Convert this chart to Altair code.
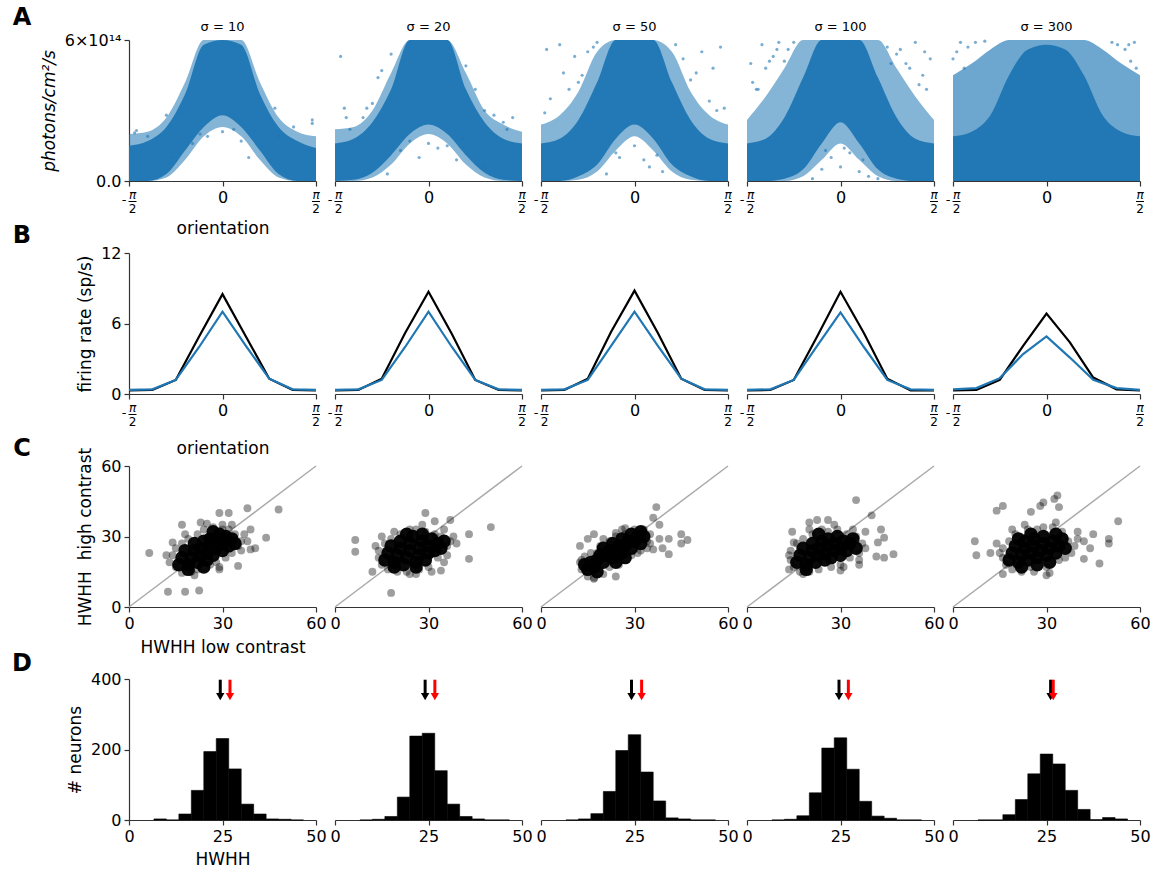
import altair as alt
import pandas as pd

FONT = "DejaVu Sans"
W, H = 187, 141
BLUE = "#1f77b4"
SIGMAS = ["σ = 10", "σ = 20", "σ = 50", "σ = 100", "σ = 300"]

# ---------------- Row A: photon flux clouds (orientation in units of pi, flux in 1e14) ----------
A_GRID = [-0.5, -0.4, -0.3, -0.2, -0.1, 0.0, 0.1, 0.2, 0.3, 0.4, 0.5]
A_CORE_LO = [
    [0, 0, 0.3, 1.3, 2.3, 2.8, 2.3, 1.3, 0.3, 0, 0],
    [0, 0.05, 0.35, 1.1, 2.0, 2.4, 2.0, 1.1, 0.35, 0.05, 0],
    [0, 0, 0.2, 0.7, 1.8, 2.4, 1.8, 0.7, 0.2, 0, 0],
    [0, 0, 0.1, 0.5, 1.6, 2.5, 1.6, 0.5, 0.1, 0, 0],
    [0, 0, 0, 0, 0, 0, 0, 0, 0, 0, 0],
]
A_CORE_HI = [
    [1.5, 1.7, 2.3, 3.7, 5.8, 6, 5.8, 3.7, 2.3, 1.7, 1.4],
    [1.6, 1.8, 2.5, 3.9, 6, 6, 6, 3.9, 2.5, 1.8, 1.6],
    [1.6, 1.8, 2.6, 4.2, 6, 6, 6, 4.2, 2.6, 1.8, 1.6],
    [1.6, 1.8, 2.7, 4.4, 6, 6, 6, 4.4, 2.7, 1.8, 1.6],
    [1.9, 2.1, 2.8, 4.5, 5.6, 5.8, 5.6, 4.5, 2.8, 2.1, 1.9],
]
A_HALO_LO = [
    [0, 0, 0.15, 0.9, 1.9, 2.3, 1.9, 0.9, 0.15, 0, 0],
    [0, 0, 0.15, 0.7, 1.6, 2.0, 1.6, 0.7, 0.15, 0, 0],
    [0, 0, 0.05, 0.4, 1.3, 1.9, 1.3, 0.4, 0.05, 0, 0],
    [0, 0, 0, 0.2, 0.9, 1.6, 0.9, 0.2, 0, 0, 0],
    [0, 0, 0, 0, 0, 0, 0, 0, 0, 0, 0],
]
A_HALO_HI = [
    [2.0, 2.1, 2.7, 4.2, 6, 6, 6, 4.2, 2.7, 2.1, 1.9],
    [2.2, 2.3, 3.0, 4.6, 6, 6, 6, 4.6, 3.0, 2.4, 2.1],
    [2.4, 2.8, 3.8, 5.5, 6, 6, 6, 5.5, 3.8, 2.8, 2.4],
    [2.6, 3.6, 4.8, 6, 6, 6, 6, 6, 4.8, 3.6, 2.6],
    [4.5, 5.0, 5.6, 6, 6, 6, 6, 6, 5.6, 5.0, 4.5],
]
A_PTS = [
    [(-0.47, 2.05), (-0.46, 2.15), (-0.4, 1.9), (-0.3, 2.8), (-0.22, 2.9), (-0.27, 1.0),
     (-0.16, 1.6), (-0.08, 1.9), (0.0, 2.1), (0.06, 2.2), (0.1, 1.7), (0.14, 1.0),
     (0.28, 3.1), (0.3, 1.9), (0.48, 2.6), (0.48, 2.45), (0.38, 2.3), (-0.12, 2.0)],
    [(-0.47, 5.3), (-0.45, 3.1), (-0.44, 2.7), (-0.42, 2.2), (-0.35, 2.7), (-0.3, 3.3),
     (-0.33, 3.1), (-0.25, 4.7), (-0.27, 4.4), (-0.2, 5.4), (0.2, 4.9), (0.25, 3.9),
     (0.3, 3.0), (0.35, 2.8), (0.4, 2.5), (0.45, 2.7), (0.42, 2.2), (0.0, 1.6),
     (-0.05, 1.0), (0.05, 1.4), (0.15, 0.9), (-0.15, 1.3), (0.3, 0.6), (-0.1, 1.7),
     (0.1, 1.5), (0.18, 1.8), (-0.22, 0.3)],
    [(-0.47, 5.6), (-0.45, 3.5), (-0.4, 5.8), (-0.38, 4.6), (-0.35, 3.9), (-0.32, 5.3),
     (-0.3, 4.2), (-0.28, 4.5), (-0.25, 5.5), (-0.22, 5.7), (-0.2, 5.9), (0.22, 5.8),
     (0.26, 5.2), (0.3, 4.3), (0.33, 4.6), (0.36, 5.5), (0.4, 3.4), (0.42, 4.8),
     (0.46, 5.7), (0.48, 3.1), (0.44, 3.0), (-0.08, 1.0), (0.05, 0.9), (0.12, 1.1),
     (-0.15, 0.3), (0.0, 1.5), (0.15, 0.4), (-0.1, 1.2), (0.08, 0.6), (-0.48, 2.9)],
    [(-0.48, 5.0), (-0.47, 4.2), (-0.45, 3.9), (-0.42, 5.8), (-0.4, 4.8), (-0.38, 5.1),
     (-0.36, 5.3), (-0.34, 5.6), (-0.33, 5.9), (-0.3, 5.1), (-0.28, 5.6), (-0.25, 5.9),
     (0.25, 5.7), (0.27, 5.0), (0.3, 5.4), (0.32, 5.6), (0.35, 5.0), (0.37, 4.8),
     (0.4, 5.9), (0.42, 4.1), (0.44, 4.5), (0.46, 3.9), (0.48, 5.2), (-0.44, 3.9),
     (0.45, 5.5), (-0.1, 0.5), (-0.05, 1.0), (0.0, 0.6), (0.05, 1.2), (0.1, 0.4),
     (-0.15, 0.1), (0.15, 0.2), (0.02, 1.4), (-0.08, 1.3), (0.12, 0.9), (0.2, 0.1)],
    [(-0.48, 5.5), (-0.46, 5.9), (-0.44, 4.8), (-0.42, 5.7), (0.42, 5.6), (0.45, 5.1),
     (0.47, 5.9), (0.48, 4.8), (-0.5, 5.2), (0.44, 5.8), (-0.38, 5.9), (0.38, 5.8),
     (-0.33, 5.95), (0.35, 5.9)],
]

# ---------------- Row B: tuning curves ----------
B_ORI = [-0.5, -0.375, -0.25, -0.125, 0.0, 0.125, 0.25, 0.375, 0.5]
B_HIGH = [
    [0.3, 0.35, 1.2, 4.9, 8.5, 4.9, 1.3, 0.35, 0.3],
    [0.3, 0.35, 1.3, 5.2, 8.7, 5.1, 1.2, 0.35, 0.3],
    [0.3, 0.35, 1.3, 5.3, 8.8, 5.2, 1.3, 0.35, 0.3],
    [0.3, 0.35, 1.2, 4.9, 8.7, 5.2, 1.3, 0.3, 0.3],
    [0.3, 0.35, 1.2, 4.1, 6.85, 4.4, 1.4, 0.4, 0.3],
]
B_LOW = [
    [0.35, 0.4, 1.2, 4.0, 7.0, 4.1, 1.3, 0.4, 0.35],
    [0.35, 0.4, 1.2, 4.0, 7.0, 4.0, 1.2, 0.4, 0.35],
    [0.35, 0.4, 1.2, 4.1, 7.0, 4.1, 1.3, 0.4, 0.35],
    [0.35, 0.4, 1.2, 4.1, 6.95, 4.0, 1.2, 0.4, 0.35],
    [0.4, 0.5, 1.35, 3.4, 4.9, 3.1, 1.2, 0.5, 0.35],
]

# ---------------- Row C: HWHH low vs high contrast ----------
C_CORE = [
    [(16, 18), (17, 21), (18, 24), (19, 18), (20, 21), (21, 24), (21, 27), (22, 19), (23, 22),
     (23, 25), (24, 28), (25, 20), (25, 23), (26, 26), (26, 29), (27, 22), (28, 25), (28, 28),
     (29, 31), (30, 24), (30, 27), (31, 30), (32, 26), (33, 29), (19, 16), (24, 17), (27, 32), (34, 27)],
    [(16, 20), (17, 23), (18, 26), (19, 19), (20, 22), (21, 25), (21, 28), (22, 18), (23, 21),
     (24, 24), (24, 27), (25, 30), (26, 19), (27, 22), (27, 25), (28, 28), (29, 20), (30, 23),
     (30, 26), (31, 29), (32, 24), (33, 27), (34, 25), (19, 17), (23, 31), (28, 31), (26, 17), (35, 28)],
    [(15, 16), (16, 19), (17, 17), (18, 20), (19, 22), (20, 19), (21, 22), (22, 24), (23, 21),
     (24, 24), (25, 26), (26, 23), (27, 26), (28, 28), (29, 25), (30, 28), (31, 30), (32, 27),
     (33, 30), (18, 15), (20, 25), (23, 27), (26, 29), (29, 31), (14, 18), (24, 19), (27, 21), (32, 32)],
    [(16, 19), (17, 22), (18, 25), (19, 18), (20, 21), (21, 24), (21, 27), (22, 19), (23, 22),
     (23, 25), (24, 28), (25, 20), (25, 23), (26, 26), (26, 29), (27, 21), (28, 24), (28, 27),
     (29, 30), (30, 22), (30, 25), (31, 28), (32, 24), (33, 27), (19, 16), (23, 31), (35, 25), (34, 29)],
    [(18, 20), (19, 23), (20, 26), (21, 19), (22, 22), (23, 25), (23, 28), (24, 20), (25, 23),
     (26, 26), (26, 29), (27, 21), (28, 24), (29, 27), (29, 30), (30, 22), (31, 25), (32, 28),
     (33, 31), (33, 23), (34, 26), (35, 29), (36, 25), (22, 17), (27, 18), (31, 19), (25, 31), (21, 29)],
]
C_SOFT = [
    [(14, 22), (15, 17), (15, 25), (17, 14.5), (17, 27), (19, 29), (20, 15), (22, 31), (22, 16),
     (24, 33), (26, 18), (27, 34), (28, 19), (30, 33), (31, 21), (32, 33), (33, 23), (34, 31),
     (35, 26), (36, 28), (36, 24), (29, 16), (18, 31), (13, 19), (12, 22), (21, 13.5), (25, 35.5),
     (30, 35), (33, 35), (37, 31), (6.5, 23), (12.5, 6.5), (18, 6.5), (22.5, 7), (29, 40), (32, 40),
     (38, 42), (48, 41.5), (44, 29.5), (39, 24.5), (40.5, 25), (35, 17.5), (29, 17), (23, 36),
     (17, 35), (14, 27.5), (39, 33), (38, 28)],
    [(14, 21), (14, 24), (15, 18), (16, 27), (17, 16), (18, 29), (20, 15), (21, 31), (23, 15),
     (24, 33), (26, 33), (27, 16), (29, 32), (30, 17), (32, 31), (33, 21), (34, 30), (36, 26),
     (36, 22), (37, 28), (35, 19), (13, 26), (19, 32), (28, 35), (31, 15), (38, 30), (6.5, 28.5),
     (6.5, 23.5), (12, 15), (18, 6), (29, 40), (37, 37), (43, 31), (50, 34), (43, 20.5), (34, 15.5),
     (26, 14), (24, 14), (15, 30), (32, 36.5), (35, 33), (39, 27)],
    [(13, 20), (13, 16), (15, 13), (16, 23), (17, 12.5), (19, 26), (20, 14), (22, 17), (22, 28),
     (24, 30), (25, 18), (27, 31), (29, 22), (30, 33), (32, 24), (33, 33), (34, 28), (35, 31),
     (34, 25), (20, 29), (18, 23), (12.5, 19), (14, 21.5), (26, 33), (31, 23), (35, 27), (37, 42.5),
     (36, 38), (38, 35), (45, 31), (45, 27), (47, 28.5), (41, 29), (41, 22.5), (39, 25), (12.5, 26),
     (15, 29), (17, 31), (24, 31.5), (27, 33.5), (24, 13), (17, 12), (38, 29), (36, 24.5)],
    [(14, 20), (14, 24), (15, 17), (16, 27), (17, 15), (18, 29), (20, 15), (21, 31), (23, 16),
     (24, 33), (26, 32), (27, 17), (29, 33), (30, 18), (32, 31), (33, 21), (35, 30), (36, 23),
     (37, 27), (38, 25), (13.5, 22), (20, 33), (28, 35), (31, 17), (36, 20), (34, 33), (35, 45.5),
     (40, 39), (20, 36), (22.5, 37), (26, 37), (14.5, 32), (15, 27.5), (43, 33), (44, 29.5),
     (42, 27.5), (41.5, 21.5), (44, 21), (47, 22.5), (36, 18), (13.5, 16), (30, 15.5), (18, 14), (38, 32)],
    [(16, 21), (16, 25), (17, 18), (18, 28), (19, 16), (20, 31), (22, 15), (24, 33), (25, 17),
     (27, 33), (29, 34), (30, 17), (32, 34), (34, 20), (35, 32), (37, 28), (38, 23), (39, 26),
     (36, 21), (15, 23), (19, 33), (23, 35), (33, 36), (40, 29), (31, 14.5), (26, 15), (14, 41),
     (16, 43), (25, 40.5), (28, 43), (29, 44.5), (32.5, 46), (33.5, 47.5), (34, 42.5), (53, 36.5),
     (45, 31), (50, 29), (50, 27), (44, 25), (42, 20.5), (47, 18.5), (7, 28), (7.5, 22), (12, 23),
     (16, 14), (30, 13.5), (14, 27), (40, 32), (42, 28)],
]
C_DIAG = [0, 60]

# ---------------- Row D: HWHH histograms ----------
D_EDGES = [6.667, 10.0, 13.333, 16.667, 20.0, 23.333, 26.667, 30.0, 33.333, 36.667, 40.0, 43.333, 46.667]
D_COUNTS = [
    [3, 0, 17, 84, 194, 231, 145, 45, 17, 3, 2, 0],
    [0, 2, 10, 65, 238, 246, 140, 45, 10, 3, 0, 0],
    [0, 3, 18, 81, 197, 242, 136, 54, 6, 3, 0, 0],
    [0, 2, 12, 77, 204, 233, 144, 53, 11, 5, 0, 0],
    [0, 0, 15, 58, 131, 187, 159, 84, 30, 1, 7, 3],
]
D_MEAN_BLACK = [24.4, 24.1, 24.2, 24.6, 26.1]
D_MEAN_RED = [27.0, 26.7, 26.9, 27.1, 26.8]

AX = "#333333"


def x_axis(values, first, title, pad, expr=None):
    d = dict(values=values, title=title if first else "", titlePadding=pad, labelFlush=False,
             labelOverlap=False)
    if expr:
        d["labelExpr"] = expr
    return alt.Axis(**d)


def y_axis(values, first, title, expr=None, style=None):
    if not first:
        return None
    d = dict(values=values, title=title, titlePadding=6, labelFlush=False, labelOverlap=False)
    if expr:
        d["labelExpr"] = expr
    if style:
        d["titleFontStyle"] = style
    return alt.Axis(**d)


def text_layer(txt, x, y, size, weight="normal", style="normal", align="center"):
    return alt.Chart(pd.DataFrame({"t": [txt]})).mark_text(
        font=FONT, fontSize=size, fontWeight=weight, fontStyle=style, align=align,
        baseline="middle", color="black"
    ).encode(text="t:N", x=alt.value(x), y=alt.value(y))


def frac_layers(xs):
    left = pd.DataFrame({"x": [-0.5]})
    right = pd.DataFrame({"x": [0.5]})
    out = []
    for df, dx in ((left, 3.5), (right, 0.0)):
        base = alt.Chart(df)
        xe = alt.X("x:Q", scale=xs)
        out.append(base.mark_text(font=FONT, fontSize=12, fontStyle="italic", dx=dx, baseline="middle",
                                  color="black").encode(x=xe, y=alt.value(H + 13.5), text=alt.value("π")))
        out.append(base.mark_text(font=FONT, fontSize=12, dx=dx, baseline="middle",
                                  color="black").encode(x=xe, y=alt.value(H + 27.5), text=alt.value("2")))
        out.append(base.mark_rule(color="black", strokeWidth=1, xOffset=dx - 4, x2Offset=dx + 4).encode(
            x=xe, x2=alt.X2("x"), y=alt.value(H + 20.5)))
    out.append(alt.Chart(left).mark_text(font=FONT, fontSize=13, dx=-5, baseline="middle",
                                         color="black").encode(x=alt.X("x:Q", scale=xs),
                                                               y=alt.value(H + 19), text=alt.value("-")))
    return out


XS_ORI = alt.Scale(domain=[-0.5, 0.5], nice=False, zero=False)


def panel_a(i):
    first = i == 0
    df = pd.DataFrame({"x": A_GRID, "clo": A_CORE_LO[i], "chi": A_CORE_HI[i],
                       "hlo": A_HALO_LO[i], "hhi": A_HALO_HI[i]})
    ys = alt.Scale(domain=[0, 6], nice=False)
    xe = alt.X("x:Q", scale=XS_ORI,
               axis=x_axis([-0.5, 0, 0.5], first, "orientation", 15, "datum.value == 0 ? '0' : ''"))
    ya = y_axis([0, 6], first, "photons/cm²/s", "datum.value == 0 ? '0.0' : '6×10¹⁴'", "italic")
    halo = alt.Chart(df).mark_area(color=BLUE, opacity=0.55 if i < 4 else 0.65, interpolate="monotone").encode(
        x=xe, y=alt.Y("hlo:Q", scale=ys, axis=ya), y2="hhi:Q")
    core = alt.Chart(df).mark_area(color=BLUE, opacity=0.97, interpolate="monotone").encode(
        x=xe, y=alt.Y("clo:Q", scale=ys, axis=ya), y2="chi:Q")
    pts = pd.DataFrame({"x": [p[0] for p in A_PTS[i]], "v": [p[1] for p in A_PTS[i]]})
    dots = alt.Chart(pts).mark_circle(color=BLUE, size=10, opacity=0.6).encode(
        x=xe, y=alt.Y("v:Q", scale=ys, axis=ya))
    layers = [halo, core, dots, text_layer(SIGMAS[i], W / 2, -13, 13)] + frac_layers(XS_ORI)
    if first:
        layers.append(text_layer("A", -107, -22, 24, "bold"))
    return alt.layer(*layers).properties(width=W, height=H)


def panel_b(i):
    first = i == 0
    df = pd.DataFrame({"x": B_ORI, "hi": B_HIGH[i], "lo": B_LOW[i]})
    ys = alt.Scale(domain=[0, 12], nice=False)
    xe = alt.X("x:Q", scale=XS_ORI,
               axis=x_axis([-0.5, 0, 0.5], first, "orientation", 22, "datum.value == 0 ? '0' : ''"))
    ya = y_axis([0, 6, 12], first, "firing rate (sp/s)")
    lh = alt.Chart(df).mark_line(color="black", strokeWidth=2.2).encode(
        x=xe, y=alt.Y("hi:Q", scale=ys, axis=ya))
    ll = alt.Chart(df).mark_line(color=BLUE, strokeWidth=2.2).encode(
        x=xe, y=alt.Y("lo:Q", scale=ys, axis=ya))
    layers = [lh, ll] + frac_layers(XS_ORI)
    if first:
        layers.append(text_layer("B", -107, -17, 24, "bold"))
    return alt.layer(*layers).properties(width=W, height=H)


def panel_c(i):
    first = i == 0
    xs = alt.Scale(domain=[0, 60], nice=False)
    ys = alt.Scale(domain=[0, 60], nice=False)
    xe = alt.X("x:Q", scale=xs, axis=x_axis([0, 30, 60], first, "HWHH low contrast", 8))
    ya = y_axis([0, 30, 60], first, "HWHH\u00a0\u00a0high contrast")
    diag = alt.Chart(pd.DataFrame({"x": C_DIAG, "y": C_DIAG})).mark_line(
        color="#aaaaaa", strokeWidth=1.5).encode(x=xe, y=alt.Y("y:Q", scale=ys, axis=ya))
    core = pd.DataFrame({"x": [p[0] for p in C_CORE[i]], "y": [p[1] for p in C_CORE[i]]})
    soft = pd.DataFrame({"x": [p[0] for p in C_SOFT[i]], "y": [p[1] for p in C_SOFT[i]]})
    s = alt.Chart(soft).mark_circle(color="black", size=62, opacity=0.38).encode(
        x=xe, y=alt.Y("y:Q", scale=ys, axis=ya))
    c = alt.Chart(core).mark_circle(color="black", size=180, opacity=0.96).encode(
        x=xe, y=alt.Y("y:Q", scale=ys, axis=ya))
    layers = [diag, s, c]
    if first:
        layers.append(text_layer("C", -107, -17, 24, "bold"))
    return alt.layer(*layers).properties(width=W, height=H)


def panel_d(i):
    first = i == 0
    xs = alt.Scale(domain=[0, 50], nice=False)
    ys = alt.Scale(domain=[0, 400], nice=False)
    xe = alt.X("lo:Q", scale=xs, axis=x_axis([0, 25, 50], first, "HWHH", 7))
    ya = y_axis([0, 200, 400], first, "# neurons")
    df = pd.DataFrame({"lo": D_EDGES[:-1], "hi": D_EDGES[1:], "n": D_COUNTS[i],
                       "z": [0] * len(D_COUNTS[i])})
    bars = alt.Chart(df).mark_rect(color="black", stroke="black", strokeWidth=0.6).encode(
        x=xe, x2="hi:Q", y=alt.Y("z:Q", scale=ys, axis=ya), y2="n:Q")
    arr = pd.DataFrame({"lo": [D_MEAN_BLACK[i], D_MEAN_RED[i]], "c": ["black", "red"],
                        "y0": [398, 398], "y1": [356, 356], "yt": [350, 350]})
    shafts = alt.Chart(arr).mark_rule(strokeWidth=3).encode(
        x=xe, y=alt.Y("y0:Q", scale=ys, axis=ya), y2="y1:Q", color=alt.Color("c:N", scale=None))
    heads = alt.Chart(arr).mark_point(shape="triangle-down", filled=True, size=70, opacity=1).encode(
        x=xe, y=alt.Y("yt:Q", scale=ys, axis=ya), color=alt.Color("c:N", scale=None))
    layers = [bars, shafts, heads]
    if first:
        layers.append(text_layer("D", -107, -15, 24, "bold"))
    return alt.layer(*layers).properties(width=W, height=H)


panels = []
for fn in (panel_a, panel_b, panel_c, panel_d):
    panels.extend(fn(i) for i in range(5))

chart = alt.concat(*panels, columns=5, spacing={"row": 72, "column": 19}, bounds="flush").properties(
    padding={"left": 12, "top": 6, "right": 10, "bottom": 10}, background="white"
).configure_view(strokeWidth=0).configure_axis(
    domainColor=AX, domainWidth=1.2, tickColor=AX, tickWidth=1.2, tickSize=5, grid=False,
    labelFont=FONT, labelFontSize=16, labelColor="black", labelPadding=3,
    titleFont=FONT, titleFontSize=17, titleFontWeight="normal", titleColor="black"
)

chart.save("out.html", embed_options={"renderer": "svg", "actions": False})
